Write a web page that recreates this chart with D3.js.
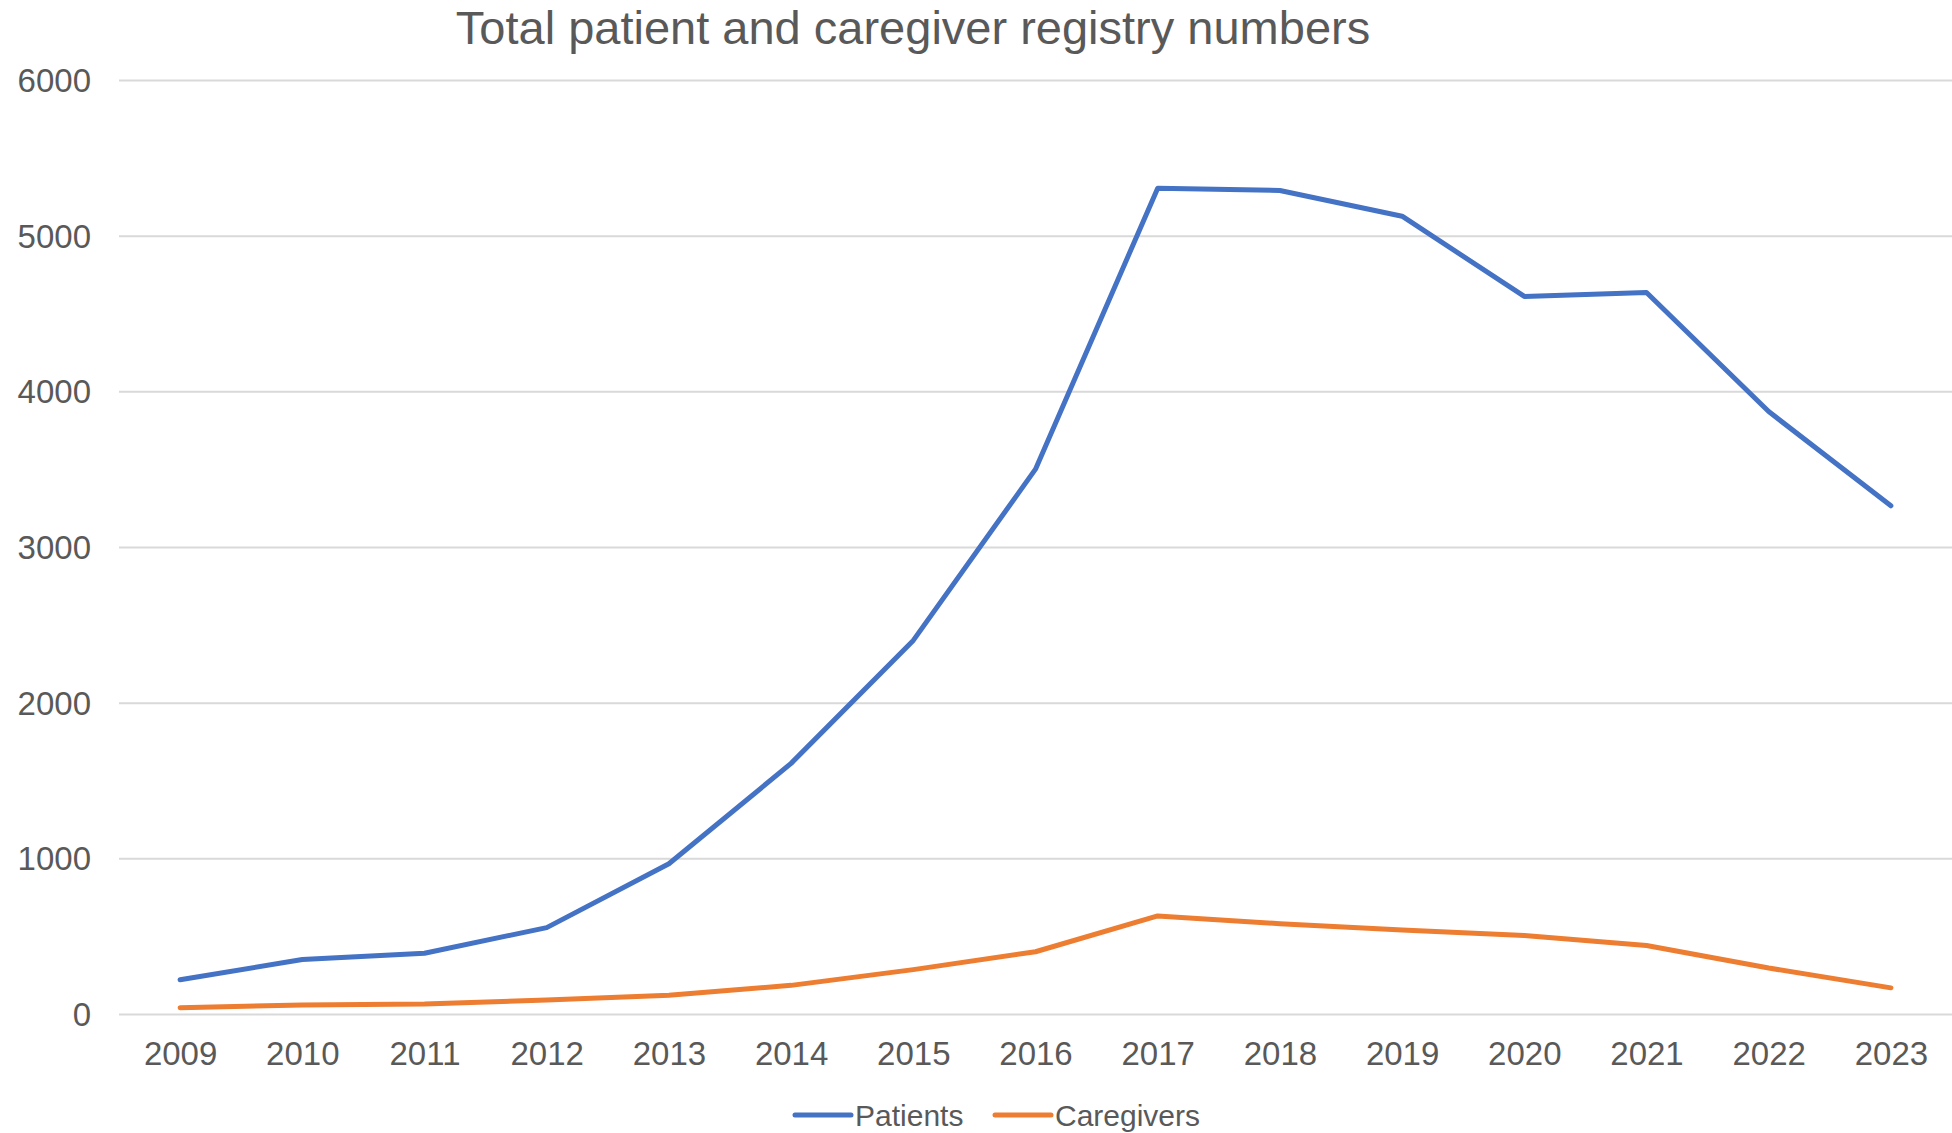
<!DOCTYPE html>
<html>
<head>
<meta charset="utf-8">
<script src="https://cdn.jsdelivr.net/npm/d3@7"></script>
<style>
  body { margin: 0; background: #fff; }
  .axis text { font-family: "Liberation Sans", Arial, sans-serif; fill: #595959; }
</style>
</head>
<body>
<script>
// data
var years = ["2009","2010","2011","2012","2013","2014","2015","2016","2017","2018","2019","2020","2021","2022","2023"];
var patients = [220, 350, 390, 555, 965, 1610, 2400, 3500, 5305, 5290, 5125, 4610, 4635, 3870, 3265];
var caregivers = [40, 58, 65, 90, 120, 184, 285, 400, 630, 580, 540, 505, 440, 295, 168];
var yTicks = [0, 1000, 2000, 3000, 4000, 5000, 6000];
var seriesNames = ["Patients", "Caregivers"];
var seriesColors = ["#4472C4", "#ED7D31"];

function drawChart() {
  var w = 1952;
  var h = 1133;
  var left = 119, right = 1952, top = 80, bottom = 1014;

  var svg = d3.select("body").append("svg")
    .attr("width", w)
    .attr("height", h);

  var xScale = d3.scalePoint()
    .domain(years)
    .range([left, right])
    .padding(0.5);

  var yScale = d3.scaleLinear()
    .domain([0, 6000])
    .range([bottom, top]);

  // gridlines + y labels
  var yAxis = d3.axisLeft(yScale)
    .tickValues(yTicks)
    .tickSize(-(right - left))
    .tickPadding(28)
    .tickFormat(d3.format("d"));
  var gy = svg.append("g")
    .attr("class", "axis")
    .attr("transform", "translate(" + left + ",0)")
    .call(yAxis);
  gy.select(".domain").remove();
  gy.selectAll("line").attr("stroke", "#d9d9d9").attr("stroke-width", 2);
  gy.selectAll("text").attr("font-size", "33px").attr("dy", "0.35em");

  // x labels
  var xAxis = d3.axisBottom(xScale).tickSize(0).tickPadding(28);
  var gx = svg.append("g")
    .attr("class", "axis")
    .attr("transform", "translate(0," + bottom + ")")
    .call(xAxis);
  gx.select(".domain").remove();
  gx.selectAll("text").attr("font-size", "33px");

  // lines
  var allSeries = [patients, caregivers];
  var line = d3.line()
    .x(function(d, i) { return xScale(years[i]); })
    .y(function(d) { return yScale(d); });
  svg.selectAll("path.series")
    .data(allSeries)
    .enter()
    .append("path")
    .attr("class", "series")
    .attr("d", line)
    .attr("fill", "none")
    .attr("stroke", function(d, i) { return seriesColors[i]; })
    .attr("stroke-width", 5)
    .attr("stroke-linejoin", "round")
    .attr("stroke-linecap", "round");

  // title
  svg.append("text")
    .attr("x", 913)
    .attr("y", 44)
    .attr("text-anchor", "middle")
    .attr("font-family", "Liberation Sans, Arial, sans-serif")
    .attr("font-size", "47px")
    .attr("fill", "#595959")
    .text("Total patient and caregiver registry numbers");

  // legend
  var legendX = [795, 995];
  var lg = svg.selectAll("g.legend")
    .data(seriesNames)
    .enter()
    .append("g")
    .attr("class", "legend")
    .attr("transform", function(d, i) { return "translate(" + legendX[i] + ",1115)"; });
  lg.append("line")
    .attr("x1", 0).attr("x2", 56)
    .attr("y1", 0).attr("y2", 0)
    .attr("stroke", function(d, i) { return seriesColors[i]; })
    .attr("stroke-width", 5)
    .attr("stroke-linecap", "round");
  lg.append("text")
    .attr("x", 60)
    .attr("y", 0)
    .attr("dy", "0.36em")
    .attr("font-family", "Liberation Sans, Arial, sans-serif")
    .attr("font-size", "30px")
    .attr("fill", "#595959")
    .text(function(d) { return d; });
}

window.onload = function() {
  drawChart();
};
</script>
</body>
</html>
